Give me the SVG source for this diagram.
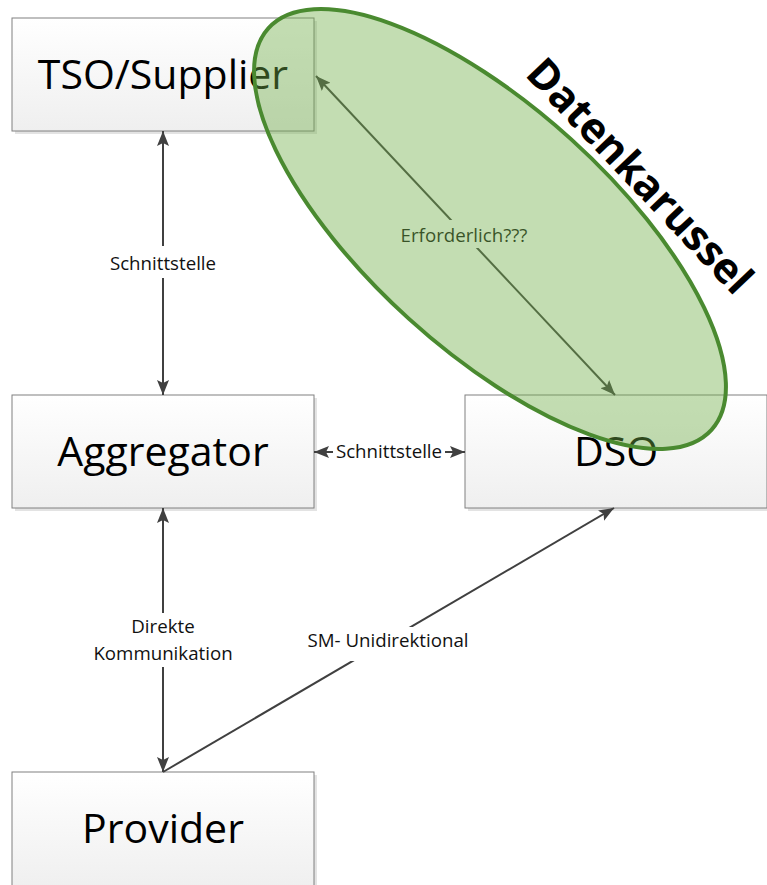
<svg xmlns="http://www.w3.org/2000/svg" width="767" height="885" viewBox="0 0 767 885">
<style>
.shadow{fill:#e3e3e3}
.box{fill:url(#bg);stroke:#808080;stroke-width:1}
.big{font-family:"Open Sans","Liberation Sans",sans-serif;font-size:41px;fill:#000;text-anchor:middle}
.lbl{font-family:"Open Sans","Liberation Sans",sans-serif;font-size:18.7px;fill:#111;text-anchor:middle}
.con{stroke:#404040;stroke-width:2;fill:none}
.bgr{fill:#fff}
</style>
<defs>
<linearGradient id="bg" x1="0" y1="0" x2="0" y2="1">
<stop offset="0" stop-color="#ffffff"/>
<stop offset="1" stop-color="#efefef"/>
</linearGradient>
<marker id="ah" viewBox="0 0 15 12" refX="15" refY="6" markerWidth="15" markerHeight="12" markerUnits="userSpaceOnUse" orient="auto-start-reverse">
<path d="M0,0 L15,6 L0,12 L3,6 Z" fill="#404040"/>
</marker>
</defs>
<rect width="767" height="885" fill="#fff"/>

<g id="tso">
<rect class="shadow" x="15" y="21" width="302" height="113"/>
<rect class="box" x="12" y="18" width="302" height="113"/>
<text class="big" x="163" y="89">TSO/Supplier</text>
</g>
<g id="aggregator">
<rect class="shadow" x="15" y="398" width="302" height="113"/>
<rect class="box" x="12" y="395" width="302" height="113"/>
<text class="big" x="163" y="466">Aggregator</text>
</g>
<g id="dso">
<rect class="shadow" x="468" y="398" width="302" height="113"/>
<rect class="box" x="465" y="395" width="302" height="113"/>
<text class="big" x="616" y="466">DSO</text>
</g>
<g id="provider">
<rect class="shadow" x="15" y="775" width="302" height="115"/>
<rect class="box" x="12" y="772" width="302" height="118"/>
<text class="big" x="163" y="843">Provider</text>
</g>

<g id="connectors">
<line class="con" x1="163" y1="131" x2="163" y2="395" marker-start="url(#ah)" marker-end="url(#ah)"/>
<rect class="bgr" x="108" y="246" width="110" height="32"/>
<text class="lbl" x="163" y="270">Schnittstelle</text>

<line class="con" x1="314" y1="452" x2="465" y2="452" marker-start="url(#ah)" marker-end="url(#ah)"/>
<rect class="bgr" x="333" y="440" width="112" height="24"/>
<text class="lbl" x="389" y="458">Schnittstelle</text>

<line class="con" x1="163" y1="508" x2="163" y2="772" marker-start="url(#ah)" marker-end="url(#ah)"/>
<rect class="bgr" x="126" y="613" width="74" height="54"/>
<text class="lbl" x="163" y="633">Direkte</text>
<text class="lbl" x="163" y="660">Kommunikation</text>

<line class="con" x1="163" y1="772" x2="614" y2="508" marker-end="url(#ah)"/>
<rect class="bgr" x="306" y="627" width="164" height="34"/>
<text class="lbl" x="388" y="647">SM- Unidirektional</text>

<line class="con" x1="316" y1="76" x2="615" y2="395" marker-start="url(#ah)" marker-end="url(#ah)"/>
<rect class="bgr" x="398" y="220" width="132" height="28"/>
<text class="lbl" x="464" y="242">Erforderlich???</text>
</g>

<g id="datenkarussel">
<ellipse cx="490" cy="229" rx="299" ry="121" transform="rotate(42.2 490 229)" fill="#70ad47" fill-opacity="0.42" stroke="#4a8a30" stroke-width="4"/>
<text transform="translate(524,75) rotate(46.5)" x="0" y="0" font-family="'Open Sans','Liberation Sans',sans-serif" font-weight="bold" font-size="42" fill="#000" textLength="306" lengthAdjust="spacingAndGlyphs">Datenkarussel</text>
</g>
</svg>
